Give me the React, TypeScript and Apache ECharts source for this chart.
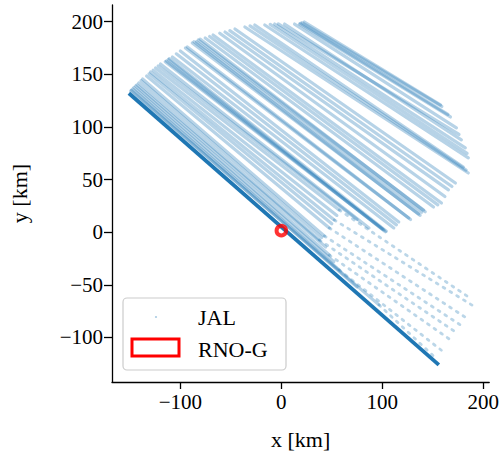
import React, { useEffect, useRef } from "react";
import * as echarts from "echarts";

const xTicks = [-100, 0, 100, 200];
const yTicks = [-100, -50, 0, 50, 100, 150, 200];

// JAL flight tracks (km): [[x_start, y_start], [x_end, y_end]]
const topTracks = [
  [[22.9, 199.7], [157.6, 120.9]],
  [[20.5, 199.2], [159.0, 119.5]],
  [[19.0, 198.5], [165.0, 112.0]],
  [[18.0, 197.8], [167.5, 109.5]],
  [[13.1, 197.8], [173.4, 99.1]],
  [[3.2, 197.8], [178.3, 87.7]],
  [[-3.0, 198.0], [176.0, 93.0]],
  [[-6.6, 197.8], [182.2, 80.1]],
  [[-11.0, 197.5], [184.0, 75.0]],
  [[-16.4, 196.9], [185.2, 70.6]],
  [[-26.3, 196.9], [180.2, 62.0]],
  [[-31.0, 196.0], [183.0, 59.0]],
  [[-36.1, 195.0], [185.2, 56.3]],
  [[-45.9, 193.1], [172.4, 46.8]],
];

const upperTracks = [
  [[-51.0, 191.5], [169.0, 43.5]],
  [[-55.8, 190.2], [165.5, 40.2]],
  [[-61.0, 189.0], [162.0, 34.0]],
  [[-67.6, 187.4], [158.6, 27.8]],
  [[-71.0, 186.0], [155.0, 26.0]],
  [[-75.4, 184.5], [150.7, 24.0]],
  [[-82.3, 182.6], [140.9, 21.2]],
  [[-84.0, 181.0], [139.0, 19.0]],
  [[-80.5, 183.5], [142.5, 19.5]],
  [[-88.2, 179.8], [136.0, 17.4]],
  [[-86.5, 181.0], [137.5, 16.0]],
  [[-93.1, 176.0], [126.2, 13.6]],
  [[-95.0, 175.0], [128.0, 12.0]],
  [[-100.0, 172.2], [116.3, 9.8]],
  [[-104.0, 169.5], [114.0, 7.0]],
  [[-107.9, 166.5], [111.4, 4.1]],
  [[-113.8, 162.7], [101.6, 2.2]],
  [[-115.0, 162.0], [100.0, 3.0]],
  [[-112.0, 164.0], [103.0, 0.5]],
  [[-111.0, 165.0], [104.0, 1.0]],
  [[-119.7, 159.8], [86.8, 4.1]],
  [[-122.0, 158.0], [75.0, 12.0]],
];

// tracks whose far part is only sparsely sampled: dense part, then sparse part
const lowerDense = [
  [[-124.6, 156.0], [57.3, 21.2]],
  [[-127.0, 154.0], [55.0, 16.0]],
  [[-129.5, 152.2], [52.4, 11.7]],
  [[-131.0, 150.5], [50.0, 8.0]],
  [[-133.4, 148.4], [47.5, 4.1]],
  [[-137.4, 145.6], [42.6, -3.5]],
  [[-139.0, 144.0], [40.0, -5.0]],
  [[-141.3, 141.8], [37.7, -7.3]],
  [[-143.0, 140.0], [44.0, -14.0]],
  [[-144.3, 138.9], [47.5, -21.6]],
  [[-146.0, 137.5], [52.0, -28.0]],
  [[-147.2, 136.1], [57.3, -35.8]],
  [[-148.5, 135.0], [75.0, -52.0]],
  [[-149.2, 134.2], [96.7, -69.0]],
];
const lowerSparse = [
  [[57.3, 21.2], [185.2, -61.4]],
  [[52.4, 11.7], [190.1, -70.0]],
  [[47.5, 4.1], [183.2, -81.4]],
  [[42.6, -3.5], [180.2, -89.9]],
  [[37.7, -7.3], [175.3, -96.6]],
  [[47.5, -21.6], [170.4, -104.2]],
  [[57.3, -35.8], [160.6, -113.7]],
  [[96.7, -69.0], [152.7, -119.4]],
];

const nearestTrack = [[-151, 132], [156, -126]];
const station = [[0, 1.5]];

const FONT = "'Liberation Serif', 'DejaVu Serif', serif";
const BLUE = "#1f77b4";

const fmt = (v: number) => (v < 0 ? "\u2212" + Math.abs(v) : String(v));

export default function App() {
  const ref = useRef<HTMLDivElement>(null);
  useEffect(() => {
    if (!ref.current) return;
    const chart = echarts.init(ref.current, undefined, { renderer: "svg" });
    const trackSeries = [...topTracks, ...upperTracks, ...lowerDense].map((t) => ({
      type: "line",
      data: t,
      symbol: "none",
      silent: true,
      z: 2,
      lineStyle: { color: BLUE, width: 3.2, opacity: 0.32, cap: "round" },
    }));
    const sparseSeries = lowerSparse.map((t) => ({
      type: "line",
      data: t,
      symbol: "none",
      silent: true,
      z: 2,
      lineStyle: { color: BLUE, width: 2.8, opacity: 0.3, type: [2, 6], cap: "round" },
    }));
    chart.setOption({
      animation: false,
      grid: { left: 111, top: 5, right: 10, bottom: 76 },
      xAxis: {
        type: "value",
        min: -167.7,
        max: 205.9,
        name: "x [km]",
        nameLocation: "middle",
        nameGap: 46,
        nameTextStyle: { fontFamily: FONT, fontSize: 22, color: "#000" },
        axisLine: { show: true, onZero: false, lineStyle: { color: "#000", width: 1.3 } },
        axisTick: { show: true, length: 7, customValues: xTicks, lineStyle: { color: "#000", width: 1.3 } },
        axisLabel: { customValues: xTicks, formatter: fmt, fontFamily: FONT, fontSize: 21, color: "#000", margin: 9 },
        splitLine: { show: false },
      },
      yAxis: {
        type: "value",
        min: -142.3,
        max: 215.9,
        name: "y [km]",
        nameLocation: "middle",
        nameGap: 82,
        nameTextStyle: { fontFamily: FONT, fontSize: 22, color: "#000" },
        axisLine: { show: true, onZero: false, lineStyle: { color: "#000", width: 1.3 } },
        axisTick: { show: true, length: 8, customValues: yTicks, lineStyle: { color: "#000", width: 1.3 } },
        axisLabel: { customValues: yTicks, formatter: fmt, fontFamily: FONT, fontSize: 21, color: "#000", margin: 9 },
        splitLine: { show: false },
      },
      series: [
        ...trackSeries,
        ...sparseSeries,
        {
          type: "line",
          data: nearestTrack,
          symbol: "none",
          silent: true,
          z: 3,
          lineStyle: { color: BLUE, width: 3.8, opacity: 1 },
        },
        {
          type: "scatter",
          data: station,
          symbol: "circle",
          symbolSize: 9.5,
          z: 5,
          itemStyle: { color: "rgba(255,255,255,0)", borderColor: "#ff0000", borderWidth: 4 },
        },
      ],
      graphic: [
        {
          type: "rect",
          shape: { x: 123, y: 298, width: 163, height: 72, r: 4 },
          style: { fill: "rgba(255,255,255,0.8)", stroke: "#cccccc", lineWidth: 1.2 },
          z: 10,
        },
        {
          type: "circle",
          shape: { cx: 156, cy: 317, r: 1.1 },
          style: { fill: "rgba(31,119,180,0.35)" },
          z: 11,
        },
        {
          type: "text",
          x: 198,
          y: 317,
          style: { text: "JAL", font: `22px ${FONT}`, fill: "#000", textVerticalAlign: "middle" },
          z: 11,
        },
        {
          type: "rect",
          shape: { x: 132, y: 339, width: 47, height: 17 },
          style: { fill: "#fff", stroke: "#ff0000", lineWidth: 3 },
          z: 11,
        },
        {
          type: "text",
          x: 198,
          y: 349,
          style: { text: "RNO-G", font: `22px ${FONT}`, fill: "#000", textVerticalAlign: "middle" },
          z: 11,
        },
      ],
    });
    return () => chart.dispose();
  }, []);
  return (
    <div
      ref={ref}
      style={{ position: "absolute", left: 0, top: 0, width: 502, height: 458 }}
    />
  );
}
